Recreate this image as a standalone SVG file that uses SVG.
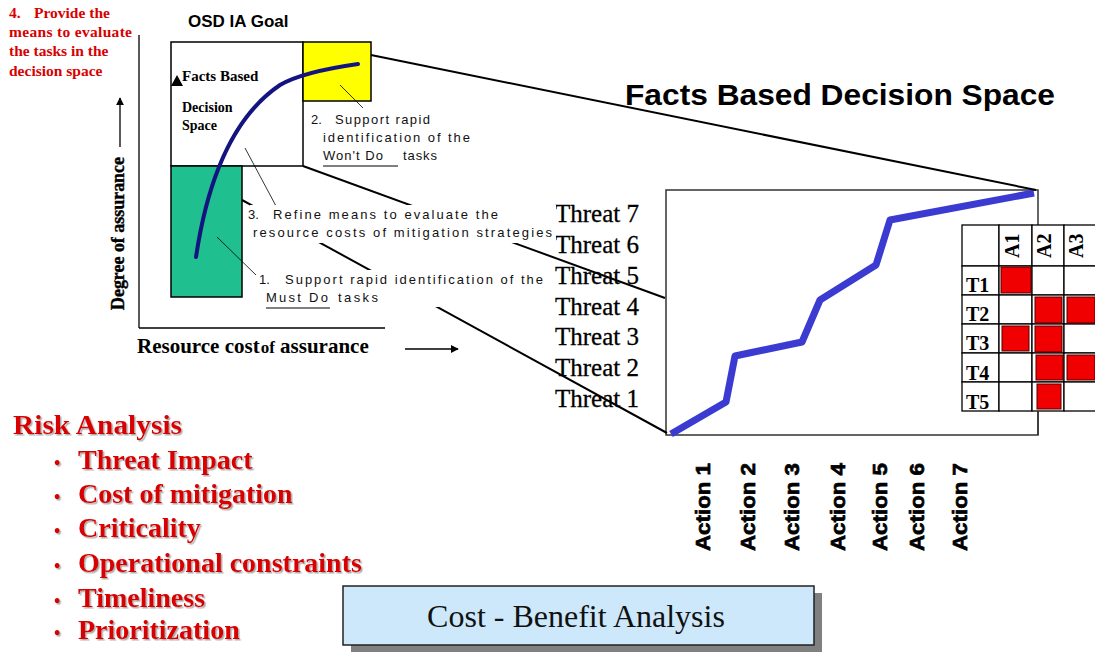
<svg xmlns="http://www.w3.org/2000/svg" width="1095" height="653" viewBox="0 0 1095 653">
<defs>
<marker id="ah" viewBox="0 0 10 10" refX="9" refY="5" markerWidth="8" markerHeight="8" markerUnits="userSpaceOnUse" orient="auto"><path d="M0,0 L10,5 L0,10 z" fill="#000"/></marker>
<filter id="sh" x="-5%" y="-20%" width="110%" height="140%"><feDropShadow dx="1.5" dy="1.5" stdDeviation="0.6" flood-color="#777" flood-opacity="0.6"/></filter>
<style>
.sans{font-family:"Liberation Sans",Arial,sans-serif}
.serif{font-family:"Liberation Serif","Times New Roman",serif}
.redb{font-family:"Liberation Serif","Times New Roman",serif;font-weight:bold;fill:#d80000}
.note{font-family:"Liberation Sans",Arial,sans-serif;font-size:13px;fill:#111}
.conn{stroke:#000;stroke-width:2;fill:none}
.lead{stroke:#000;stroke-width:0.8;fill:none}
.cell{fill:#fff;stroke:#000;stroke-width:1.3}
.red{fill:#f00000;stroke:#500;stroke-width:1}
.thr{font-family:"Liberation Serif","Times New Roman",serif;font-size:25px;fill:#000;stroke:#000;stroke-width:0.3}
.act{font-family:"Liberation Sans",Arial,sans-serif;font-weight:bold;font-size:21px;fill:#000;stroke:#000;stroke-width:0.7}
.tl{font-family:"Liberation Serif","Times New Roman",serif;font-weight:bold;font-size:20px;fill:#000}
</style>
</defs>
<rect width="1095" height="653" fill="#fff"/>

<g id="goal-note">
<text class="redb" font-size="15.5"><tspan x="9" y="18">4.</tspan><tspan x="34" y="18">Provide the</tspan><tspan x="9" y="37" textLength="123" lengthAdjust="spacing">means to evaluate</tspan><tspan x="9" y="56">the tasks in the</tspan><tspan x="9" y="76">decision space</tspan></text>
</g>

<g id="left-chart">
<text class="sans" x="188" y="27" font-size="17" font-weight="bold">OSD IA Goal</text>
<line x1="139" y1="35" x2="139" y2="328" stroke="#000" stroke-width="1.3"/>
<line x1="139" y1="328" x2="385" y2="328" stroke="#000" stroke-width="1.3"/>
<line x1="120" y1="147" x2="120" y2="98" stroke="#000" stroke-width="1.3" marker-end="url(#ah)"/>
<text class="serif" font-weight="bold" font-size="18" stroke="#000" stroke-width="0.4" transform="translate(124,310) rotate(-90)" textLength="153" lengthAdjust="spacingAndGlyphs">Degree of assurance</text>
<text class="serif" font-weight="bold" font-size="21" x="137" y="353">Resource cost<tspan font-size="17" dx="1">of</tspan> assurance</text>
<line x1="405" y1="349" x2="458" y2="349" stroke="#000" stroke-width="1.3" marker-end="url(#ah)"/>
</g>

<g id="decision-box">
<rect x="171" y="42" width="132" height="124" fill="#fff" stroke="#000" stroke-width="1.5"/>
<polygon points="171,86 177,75 183,86" fill="#000"/>
<text class="serif" font-weight="bold" font-size="15" x="182" y="81">Facts Based</text>
<text class="serif" font-weight="bold" font-size="14"><tspan x="182" y="112">Decision</tspan><tspan x="182" y="130">Space</tspan></text>
</g>
<g id="wont-do-box">
<rect x="303" y="42" width="68" height="59" fill="#ffff00" stroke="#000" stroke-width="1.5"/>
</g>
<g id="must-do-box">
<rect x="171" y="166" width="71" height="131" fill="#1fbf8f" stroke="#000" stroke-width="1.5"/>
</g>
<path id="goal-curve" d="M196,257 C206,190 228,120 280,85 Q302,72 358,64" fill="none" stroke="#141480" stroke-width="4" stroke-linecap="round"/>

<g id="right-chart">
<rect x="666" y="190" width="372" height="245" fill="#fff" stroke="#333" stroke-width="1.5"/>
<polyline points="671,434 726,402 735,356 802,342 820,300 876,265 890,220 1034,193" fill="none" stroke="#3b3bd1" stroke-width="7" stroke-linejoin="round"/>
</g>
<text class="sans" x="625" y="105" font-size="29" font-weight="bold" textLength="430" lengthAdjust="spacingAndGlyphs">Facts Based Decision Space</text>

<g id="threats">
<text class="thr" x="555" y="222">Threat 7</text>
<text class="thr" x="555" y="253">Threat 6</text>
<text class="thr" x="555" y="284">Threat 5</text>
<text class="thr" x="555" y="315">Threat 4</text>
<text class="thr" x="555" y="345">Threat 3</text>
<text class="thr" x="555" y="376">Threat 2</text>
<text class="thr" x="555" y="407">Threat 1</text>
</g>

<g id="actions">
<text class="act" transform="translate(710,551) rotate(-90)" textLength="88" lengthAdjust="spacingAndGlyphs">Action 1</text>
<text class="act" transform="translate(755,551) rotate(-90)" textLength="88" lengthAdjust="spacingAndGlyphs">Action 2</text>
<text class="act" transform="translate(799,551) rotate(-90)" textLength="88" lengthAdjust="spacingAndGlyphs">Action 3</text>
<text class="act" transform="translate(845,551) rotate(-90)" textLength="88" lengthAdjust="spacingAndGlyphs">Action 4</text>
<text class="act" transform="translate(887,551) rotate(-90)" textLength="88" lengthAdjust="spacingAndGlyphs">Action 5</text>
<text class="act" transform="translate(924,551) rotate(-90)" textLength="88" lengthAdjust="spacingAndGlyphs">Action 6</text>
<text class="act" transform="translate(967,551) rotate(-90)" textLength="88" lengthAdjust="spacingAndGlyphs">Action 7</text>
</g>

<g id="matrix">
<rect class="cell" x="962" y="225" width="37" height="41"/>
<rect class="cell" x="999" y="225" width="33" height="41"/>
<rect class="cell" x="1032" y="225" width="32" height="41"/>
<rect class="cell" x="1064" y="225" width="33" height="41"/>
<rect class="cell" x="962" y="266" width="37" height="29"/>
<rect class="cell" x="999" y="266" width="33" height="29"/>
<rect class="cell" x="1032" y="266" width="32" height="29"/>
<rect class="cell" x="1064" y="266" width="33" height="29"/>
<rect class="cell" x="962" y="295" width="37" height="29"/>
<rect class="cell" x="999" y="295" width="33" height="29"/>
<rect class="cell" x="1032" y="295" width="32" height="29"/>
<rect class="cell" x="1064" y="295" width="33" height="29"/>
<rect class="cell" x="962" y="324" width="37" height="29"/>
<rect class="cell" x="999" y="324" width="33" height="29"/>
<rect class="cell" x="1032" y="324" width="32" height="29"/>
<rect class="cell" x="1064" y="324" width="33" height="29"/>
<rect class="cell" x="962" y="353" width="37" height="29"/>
<rect class="cell" x="999" y="353" width="33" height="29"/>
<rect class="cell" x="1032" y="353" width="32" height="29"/>
<rect class="cell" x="1064" y="353" width="33" height="29"/>
<rect class="cell" x="962" y="382" width="37" height="29"/>
<rect class="cell" x="999" y="382" width="33" height="29"/>
<rect class="cell" x="1032" y="382" width="32" height="29"/>
<rect class="cell" x="1064" y="382" width="33" height="29"/>
<line x1="1038" y1="411" x2="1038" y2="435" stroke="#333" stroke-width="1.5"/>
<rect class="red" x="1001" y="267" width="30" height="26"/>
<rect class="red" x="1035" y="297" width="27" height="26"/>
<rect class="red" x="1067" y="297" width="28" height="26"/>
<rect class="red" x="1002" y="326" width="27" height="25"/>
<rect class="red" x="1035" y="326" width="27" height="26"/>
<rect class="red" x="1036" y="355" width="27" height="25"/>
<rect class="red" x="1067" y="355" width="28" height="25"/>
<rect class="red" x="1037" y="384" width="24" height="25"/>
<text class="tl" x="966" y="292">T1</text>
<text class="tl" x="966" y="321">T2</text>
<text class="tl" x="966" y="350">T3</text>
<text class="tl" x="966" y="380">T4</text>
<text class="tl" x="966" y="409">T5</text>
<text class="tl" font-size="18" transform="translate(1019,258) rotate(-90)">A1</text>
<text class="tl" font-size="18" transform="translate(1051,258) rotate(-90)">A2</text>
<text class="tl" font-size="18" transform="translate(1083,258) rotate(-90)">A3</text>
</g>

<g id="connectors">
<line class="conn" x1="371" y1="55" x2="1036" y2="190"/>
<line class="conn" x1="303" y1="166" x2="665" y2="298"/>
<line class="conn" x1="242" y1="200" x2="667" y2="433"/>
<line class="lead" x1="340" y1="85" x2="363" y2="108"/>
<line class="lead" x1="245" y1="148" x2="276" y2="206"/>
<line class="lead" x1="217" y1="237" x2="257" y2="276"/>
</g>

<g id="note-wont-do">
<text class="note"><tspan x="311" y="124">2.</tspan><tspan x="335" y="124" textLength="95" lengthAdjust="spacing">Support rapid</tspan><tspan x="323" y="142" textLength="147" lengthAdjust="spacing">identification of the</tspan><tspan x="323" y="160" textLength="60" lengthAdjust="spacing">Won't Do</tspan><tspan x="403" y="160" textLength="34" lengthAdjust="spacing">tasks</tspan></text>
<line x1="323" y1="166" x2="398" y2="166" stroke="#000" stroke-width="1"/>
</g>

<g id="note-refine">
<rect x="250" y="205" width="306" height="38" fill="#fff"/>
<text class="note"><tspan x="248" y="219">3.</tspan><tspan x="273" y="219" textLength="225" lengthAdjust="spacing">Refine means to evaluate the</tspan><tspan x="253" y="237" textLength="299" lengthAdjust="spacing">resource costs of mitigation strategies</tspan></text>
</g>

<g id="note-must-do">
<rect x="256" y="270" width="290" height="37" fill="#fff"/>
<text class="note"><tspan x="259" y="284">1.</tspan><tspan x="285" y="284" textLength="258" lengthAdjust="spacing">Support rapid identification of the</tspan><tspan x="266" y="302" textLength="62" lengthAdjust="spacing">Must Do</tspan><tspan x="338" y="302" textLength="40" lengthAdjust="spacing">tasks</tspan></text>
<line x1="266" y1="308" x2="330" y2="308" stroke="#000" stroke-width="1"/>
</g>

<g id="risk-analysis" filter="url(#sh)">
<text class="redb" font-size="28" x="13" y="434" textLength="169" lengthAdjust="spacingAndGlyphs">Risk Analysis</text>
<text class="redb" font-size="28"><tspan x="54" y="469" font-size="18">•</tspan><tspan x="78" y="469">Threat Impact</tspan></text>
<text class="redb" font-size="28"><tspan x="54" y="503" font-size="18">•</tspan><tspan x="78" y="503">Cost of mitigation</tspan></text>
<text class="redb" font-size="28"><tspan x="54" y="537" font-size="18">•</tspan><tspan x="78" y="537">Criticality</tspan></text>
<text class="redb" font-size="28"><tspan x="54" y="572" font-size="18">•</tspan><tspan x="78" y="572">Operational constraints</tspan></text>
<text class="redb" font-size="28"><tspan x="54" y="607" font-size="18">•</tspan><tspan x="78" y="607">Timeliness</tspan></text>
<text class="redb" font-size="28"><tspan x="54" y="639" font-size="18">•</tspan><tspan x="78" y="639">Prioritization</tspan></text>
</g>

<g id="cost-benefit">
<rect x="351" y="593" width="471" height="59" fill="#808080"/>
<rect x="343" y="586" width="471" height="59" fill="#cce8fa" stroke="#222" stroke-width="1.5"/>
<text class="serif" x="576" y="627" font-size="32" text-anchor="middle" fill="#111">Cost - Benefit Analysis</text>
</g>
</svg>
